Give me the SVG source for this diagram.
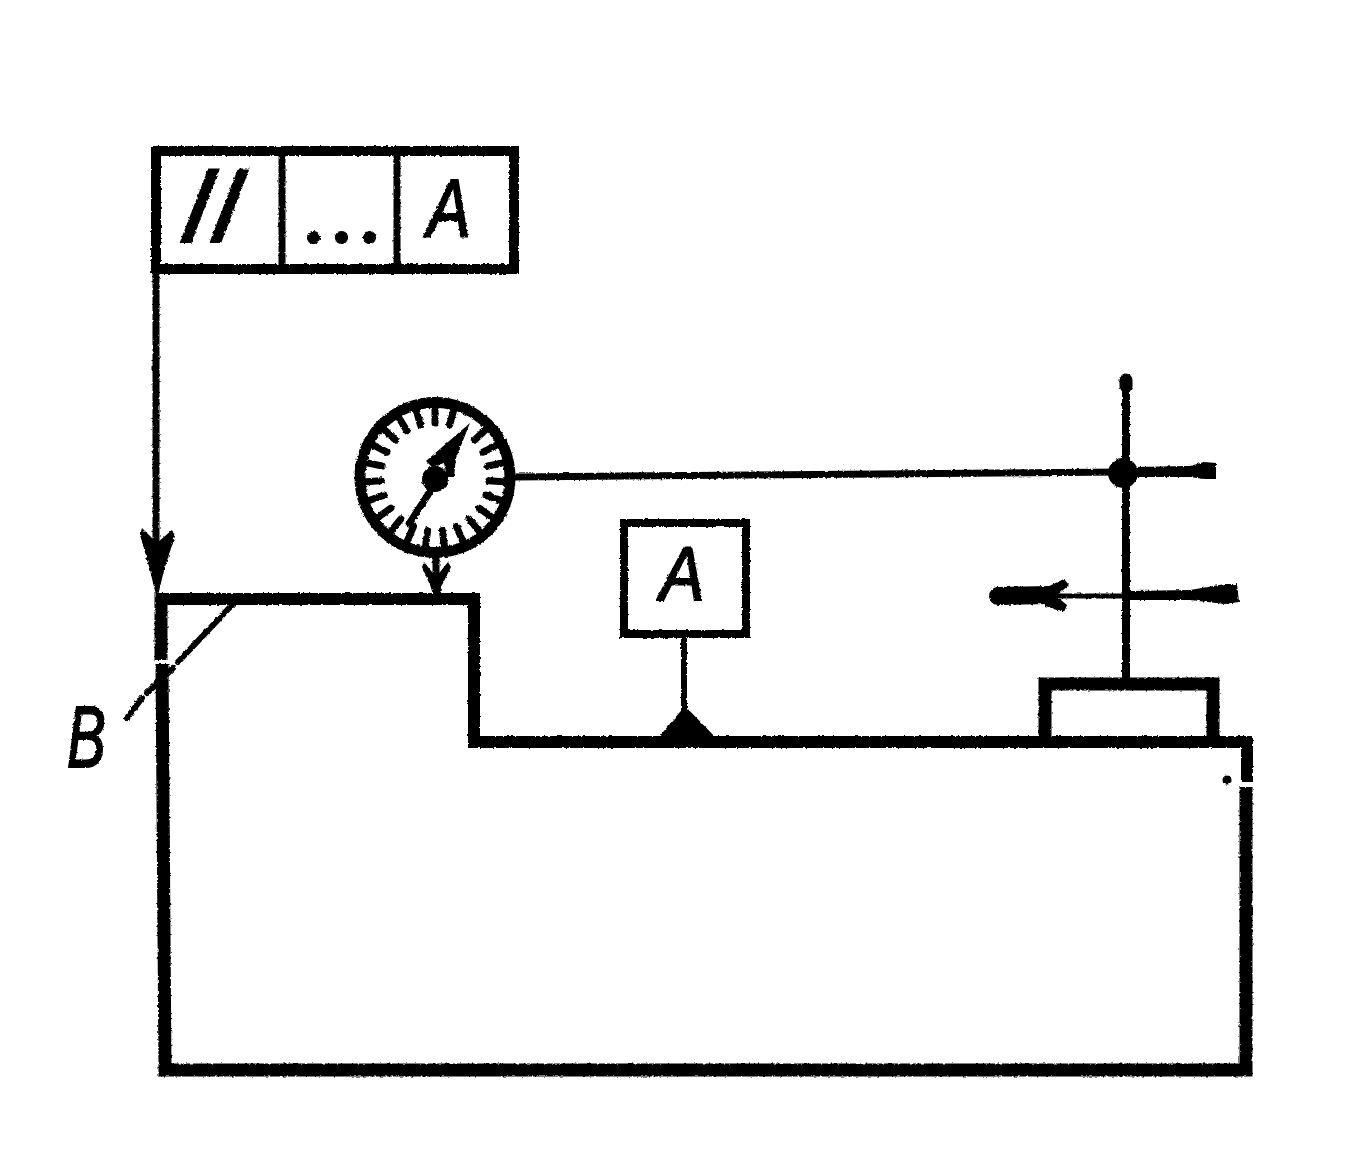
<svg xmlns="http://www.w3.org/2000/svg" xmlns:xlink="http://www.w3.org/1999/xlink" width="1351" height="1172" viewBox="0 0 1351 1172">
<style>
.l{fill:none;stroke:#000;stroke-linecap:round;stroke-linejoin:miter}
.s{fill:none;stroke:#000;stroke-linecap:butt;stroke-linejoin:miter}
.f{fill:#000;stroke:none}
.t{font-family:"Liberation Sans",Arial,sans-serif;font-style:italic;fill:#000;stroke:#000;stroke-width:2}
.b{font-family:"Liberation Sans",Arial,sans-serif;font-weight:bold;fill:#000}
.d{font-family:Lato,"Liberation Sans",sans-serif;font-weight:bold;fill:#000;stroke:#000;stroke-width:1}
</style>
<defs>
<line id="tick" x1="435" y1="405" x2="435" y2="423" class="l" stroke-width="7"/>
<filter id="rough" x="0" y="0" width="100%" height="100%" filterUnits="userSpaceOnUse" primitiveUnits="userSpaceOnUse">
<feTurbulence type="fractalNoise" baseFrequency="0.35" numOctaves="2" seed="4"/>
<feDisplacementMap in="SourceGraphic" scale="3" xChannelSelector="R" yChannelSelector="G"/>
</filter>
</defs>
<rect width="1351" height="1172" fill="#fff"/>
<g filter="url(#rough)">
<g id="frame">
<path d="M156 151H514V269H156Z" class="s" stroke-width="10"/>
<path d="M282 151V269M397 151V269" class="s" stroke-width="7"/>
<text class="b" font-size="100" letter-spacing="2" transform="translate(179 241) skewX(-11)">//</text>
<text class="d" x="304" y="243" font-size="80" letter-spacing="9">...</text>
<text class="t" font-size="82" transform="translate(427 236) scale(.8 1)">A</text>
</g>
<g id="workpiece">
<path d="M155 599H474V742H1247V782" class="s" stroke-width="12"/>
<path d="M1246 787V1070H165L162 664M161 660V593" class="s" stroke-width="13"/>
<circle cx="1227" cy="780" r="4.500" class="f"/>
</g>
<g id="gauge">
<circle cx="435" cy="477.500" r="75" fill="#fff" stroke="#000" stroke-width="11"/>
<use xlink:href="#tick"/>
<use xlink:href="#tick" transform="rotate(15.65 435 477)"/>
<use xlink:href="#tick" transform="rotate(46.96 435 477)"/>
<use xlink:href="#tick" transform="rotate(62.61 435 477)"/>
<use xlink:href="#tick" transform="rotate(78.26 435 477)"/>
<use xlink:href="#tick" transform="rotate(93.91 435 477)"/>
<use xlink:href="#tick" transform="rotate(109.57 435 477)"/>
<use xlink:href="#tick" transform="rotate(125.22 435 477)"/>
<use xlink:href="#tick" transform="rotate(140.87 435 477)"/>
<use xlink:href="#tick" transform="rotate(156.52 435 477)"/>
<use xlink:href="#tick" transform="rotate(172.17 435 477)"/>
<use xlink:href="#tick" transform="rotate(187.83 435 477)"/>
<use xlink:href="#tick" transform="rotate(203.48 435 477)"/>
<use xlink:href="#tick" transform="rotate(219.13 435 477)"/>
<use xlink:href="#tick" transform="rotate(234.78 435 477)"/>
<use xlink:href="#tick" transform="rotate(250.43 435 477)"/>
<use xlink:href="#tick" transform="rotate(266.09 435 477)"/>
<use xlink:href="#tick" transform="rotate(281.74 435 477)"/>
<use xlink:href="#tick" transform="rotate(297.39 435 477)"/>
<use xlink:href="#tick" transform="rotate(313.04 435 477)"/>
<use xlink:href="#tick" transform="rotate(328.7 435 477)"/>
<use xlink:href="#tick" transform="rotate(344.35 435 477)"/>
<circle cx="435" cy="479" r="13" class="f"/>
<path d="M470 423L426 461L432 467L444 463L447 477L454 477L456 458Z" class="f"/>
<path d="M431 490L409 524" class="l" stroke-width="7"/>
</g>
<g id="datum">
<rect x="624" y="523" width="122" height="111" class="s" stroke-width="8"/>
<text class="t" font-size="76" transform="translate(660 600) scale(.88 1)">A</text>
<path d="M653 744L685 706L722 744Z" class="f"/>
</g>
<g id="block">
<path d="M1045 742V684H1213V742" class="s" stroke-width="13"/>
</g>
<g id="label-b">
<text class="t" font-size="88" transform="translate(67 767) scale(.66 1)">B</text>
</g>
<g id="connectors">
<path d="M156 269V570" class="l" stroke-width="7"/>
<path d="M142 528L156 542L158 542L172 530L175 536L164 570L157 600L150 570L140 535Z" class="f"/>
<path d="M436 555V590" class="l" stroke-width="7"/>
<path d="M424 562L436 577L448 562L451 567L442 585L439 597H434L430 585L422 567Z" class="f"/>
<path d="M684 634V710" class="l" stroke-width="6"/>
<path d="M515 477L1123 472" class="l" stroke-width="7"/>
<path d="M1123 467L1190 466L1204 462L1216 463V479L1204 479L1190 477L1123 477Z" class="f"/>
<circle cx="1123" cy="473" r="15" class="f"/>
<path d="M1126 380V678" class="l" stroke-width="8"/>
<path d="M1126 380V386" class="l" stroke-width="13"/>
<path d="M1057 596H1126" class="l" stroke-width="5"/>
<path d="M1126 591L1190 590L1225 584L1237 584L1239 602L1225 604L1190 600L1126 600Z" class="f"/>
<path d="M998 596L1050 595" class="l" stroke-width="18"/>
<path d="M1045 588L1064 579L1069 585L1056 596L1067 605L1064 612L1045 606Z" class="f"/>
<path d="M232 605L178 662M173 668L147 693M142 698L127 718" class="l" stroke-width="6"/>
</g>
</g>
</svg>
